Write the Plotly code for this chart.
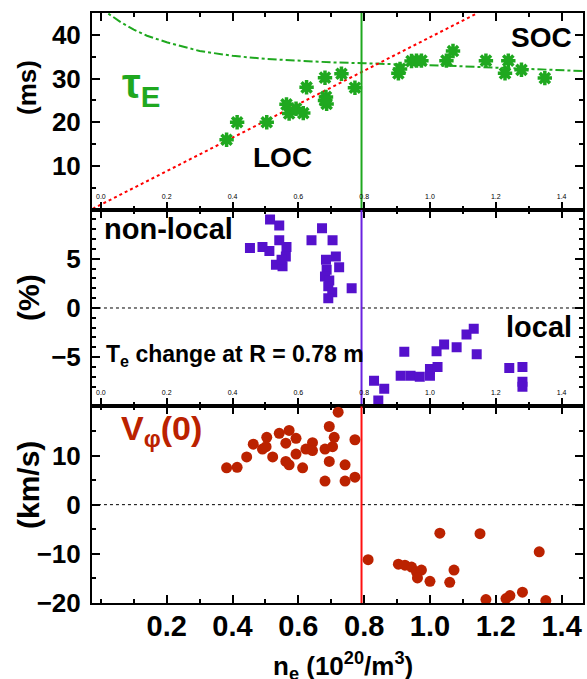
import plotly.graph_objects as go
from plotly.subplots import make_subplots

# ---- data ----
# energy confinement time (ms)
TAU_NE = [0.382, 0.414, 0.504, 0.564, 0.572, 0.593, 0.615, 0.625, 0.681, 0.684, 0.686, 0.681,
          0.731, 0.772, 0.904, 0.909, 0.944, 0.959, 0.974, 1.050, 1.070, 1.170, 1.228, 1.238,
          1.278, 1.349]
TAU_MS = [16.0, 20.0, 20.0, 24.1, 22.0, 23.1, 22.1, 28.0, 30.2, 25.8, 24.2, 25.0,
          31.1, 27.9, 31.2, 32.2, 34.0, 34.1, 34.1, 34.1, 36.3, 34.1, 31.2, 34.1,
          32.0, 30.1]
# LOC scaling line (dotted) and SOC saturation curve (dash-dot)
LOC_NE = [-0.025, 1.145]
LOC_MS = [0.2, 45.0]
SOC_NE = [0.0, 0.02, 0.06, 0.10, 0.14, 0.20, 0.30, 0.40, 0.50, 0.60, 0.70, 0.80, 0.90,
          1.00, 1.10, 1.20, 1.30, 1.40, 1.47]
SOC_MS = [47.0, 45.0, 42.9, 41.2, 39.8, 38.3, 36.3, 35.2, 34.5, 34.1, 33.7, 33.5, 33.3,
          33.1, 32.8, 32.5, 32.2, 31.9, 31.7]

# Te change at R = 0.78 m (%)
TE_NE = [0.453, 0.491, 0.514, 0.512, 0.542, 0.542, 0.564, 0.562, 0.532, 0.552, 0.549, 0.640,
         0.672, 0.704, 0.684, 0.714, 0.724, 0.686, 0.681, 0.694, 0.691, 0.703, 0.691, 0.762,
         0.830, 0.861, 0.843, 0.922, 0.911, 0.941, 0.969, 1.000, 1.000, 1.023, 1.020, 1.043,
         1.081, 1.111, 1.133, 1.142, 1.241, 1.281, 1.281, 1.281]
TE_PCT = [6.1, 6.2, 9.0, 5.8, 8.4, 6.9, 6.2, 5.25, 4.4, 4.25, 4.9, 6.9,
          8.1, 6.9, 4.9, 5.25, 4.15, 3.9, 3.2, 2.8, 2.2, 1.6, 1.0, 2.0,
          -7.4, -8.2, -9.4, -4.45, -6.9, -6.9, -7.0, -6.9, -6.2, -6.0, -4.4, -3.7,
          -4.0, -2.7, -2.1, -4.7, -6.1, -6.0, -7.5, -8.0]

# core toroidal rotation (km/s)
VT_NE = [0.382, 0.414, 0.443, 0.463, 0.491, 0.504, 0.502, 0.522, 0.542, 0.572, 0.562, 0.562,
         0.572, 0.593, 0.593, 0.613, 0.623, 0.643, 0.643, 0.681, 0.681, 0.694, 0.694, 0.704,
         0.709, 0.721, 0.742, 0.742, 0.772, 0.772, 0.812, 0.904, 0.924, 0.944, 0.959, 0.974,
         0.962, 1.000, 1.030, 1.060, 1.073, 1.152, 1.170, 1.231, 1.243, 1.281, 1.332, 1.352]
VT_KMS = [7.5, 7.6, 9.7, 12.3, 11.3, 13.7, 11.8, 9.7, 14.5, 15.1, 12.5, 8.8,
          8.1, 13.5, 10.3, 7.5, 11.3, 12.6, 11.0, 11.3, 4.8, 15.9, 8.8, 11.8,
          13.7, 18.8, 8.1, 4.8, 13.2, 5.6, -11.2, -12.1, -12.3, -12.7, -13.7, -13.3,
          -14.9, -15.6, -5.8, -15.8, -13.3, -5.9, -19.3, -19.1, -18.5, -17.8, -9.6, -19.5]

NE_CRIT = 0.792
X_TICKS = [0.2, 0.4, 0.6, 0.8, 1.0, 1.2, 1.4]
X_TICKTEXT = ["0.2", "0.4", "0.6", "0.8", "1.0", "1.2", "1.4"]
SMALL_TICKS = [0.0, 0.2, 0.4, 0.6, 0.8, 1.0, 1.2, 1.4]
SMALL_TICKTEXT = ["0.0", "0.2", "0.4", "0.6", "0.8", "1.0", "1.2", "1.4"]

GREEN = "#1FA81F"
PURPLE = "#5511CC"
DARKRED = "#BB2200"
FONT = "Liberation Sans, Arial, sans-serif"

W, H = 587, 679
ML, MR, MT, MB = 92, 4, 13, 76


def px(x):
    return (x - ML) / (W - ML - MR)


def py(y):
    return 1 - (y - MT) / (H - MT - MB)


fig = make_subplots(rows=3, cols=1, shared_xaxes=True, vertical_spacing=0)

fig.add_trace(go.Scatter(x=SOC_NE, y=SOC_MS, mode="lines",
                         line=dict(color=GREEN, width=2, dash="dashdot")), row=1, col=1)
fig.add_trace(go.Scatter(x=LOC_NE, y=LOC_MS, mode="lines",
                         line=dict(color="#FF0000", width=2, dash="dot")), row=1, col=1)
fig.add_trace(go.Scatter(x=[NE_CRIT, NE_CRIT], y=[0, 45], mode="lines",
                         line=dict(color=GREEN, width=2)), row=1, col=1)
fig.add_trace(go.Scatter(x=TAU_NE, y=TAU_MS, mode="markers",
                         marker=dict(symbol="asterisk-open", size=12, color=GREEN,
                                     line=dict(color=GREEN, width=3.5))), row=1, col=1)

fig.add_trace(go.Scatter(x=[-0.1, 1.6], y=[0, 0], mode="lines",
                         line=dict(color="black", width=1, dash="dot")), row=2, col=1)
fig.add_trace(go.Scatter(x=[NE_CRIT, NE_CRIT], y=[-10, 10], mode="lines",
                         line=dict(color="#6A22E0", width=2)), row=2, col=1)
fig.add_trace(go.Scatter(x=TE_NE, y=TE_PCT, mode="markers",
                         marker=dict(symbol="square", size=10, color=PURPLE)), row=2, col=1)

fig.add_trace(go.Scatter(x=[-0.1, 1.6], y=[0, 0], mode="lines",
                         line=dict(color="black", width=1, dash="dot")), row=3, col=1)
fig.add_trace(go.Scatter(x=[NE_CRIT, NE_CRIT], y=[-20, 20], mode="lines",
                         line=dict(color="#FF1010", width=2)), row=3, col=1)
fig.add_trace(go.Scatter(x=VT_NE, y=VT_KMS, mode="markers",
                         marker=dict(symbol="circle", size=11, color=DARKRED)), row=3, col=1)

axis_common = dict(showgrid=False, zeroline=False, showline=True, linecolor="black",
                   linewidth=2, mirror="ticks", ticks="inside", ticklen=8, tickwidth=1.5,
                   tickcolor="black", automargin=False)
fig.update_xaxes(range=[-0.027, 1.465], **axis_common,
                 minor=dict(dtick=0.1, tick0=0, ticks="inside", ticklen=4, tickcolor="black"))
fig.update_xaxes(row=1, col=1, showticklabels=True, tickvals=SMALL_TICKS, ticktext=SMALL_TICKTEXT,
                 ticklabelposition="inside", tickfont=dict(size=7, color="black", family=FONT))
fig.update_xaxes(row=2, col=1, showticklabels=True, tickvals=SMALL_TICKS, ticktext=SMALL_TICKTEXT,
                 ticklabelposition="inside", tickfont=dict(size=7, color="black", family=FONT))
fig.update_xaxes(row=3, col=1, tickvals=X_TICKS, ticktext=X_TICKTEXT, ticklabelstandoff=-4,
                 tickfont=dict(size=29, color="black", family=FONT, weight="bold"))

ytick_font = dict(size=26, color="black", family=FONT, weight="bold")
fig.update_yaxes(row=1, col=1, range=[0, 45], tickvals=[10, 20, 30, 40], **axis_common,
                 minor=dict(dtick=5, tick0=0, ticks="inside", ticklen=4, tickcolor="black"),
                 tickfont=ytick_font, ticklabelstandoff=4)
fig.update_yaxes(row=2, col=1, range=[-10, 10], tickvals=[-10, -5, 0, 5], **axis_common,
                 minor=dict(dtick=1, tick0=0, ticks="inside", ticklen=4, tickcolor="black"),
                 tickfont=ytick_font, ticklabelstandoff=4)
fig.update_yaxes(row=3, col=1, range=[-20, 20], tickvals=[-20, -10, 0, 10], **axis_common,
                 minor=dict(dtick=5, tick0=0, ticks="inside", ticklen=4, tickcolor="black"),
                 tickfont=ytick_font, ticklabelstandoff=4)


def note(text, x, y, size, color="black", xanchor="center", angle=0):
    fig.add_annotation(text=text, x=px(x), y=py(y), xref="paper", yref="paper",
                       xanchor=xanchor, yanchor="middle", showarrow=False, textangle=angle,
                       font=dict(size=size, color=color, family=FONT, weight="bold"))


note("τ<sub>E</sub>", 120, 86, 42, color=GREEN, xanchor="left")
note("LOC", 282, 157, 28)
note("SOC", 541, 37, 28)
note("non-local", 102, 229, 29, xanchor="left")
note("local", 574, 327, 29, xanchor="right")
note("T<sub>e</sub> change at R = 0.78 m", 104, 355, 23, xanchor="left")
note("V<sub>φ</sub>(0)", 119, 430, 34, color=DARKRED, xanchor="left")
note("(ms)", 27, 88, 26, angle=-90)
note("(%)", 28, 298, 30, angle=-90)
note("(km/s)", 28, 485, 30, angle=-90)
note("n<sub>e</sub> (10<sup>20</sup>/m<sup>3</sup>)", 343, 666, 26)

fig.update_layout(width=W, height=H, showlegend=False,
                  margin=dict(l=ML, r=MR, t=MT, b=MB),
                  paper_bgcolor="white", plot_bgcolor="white",
                  font=dict(family=FONT, color="black"))

# the page's default 8px body margin would shift the figure
fig.write_html("out.html", config={"displayModeBar": False},
               post_script="document.body.style.margin='0';")
